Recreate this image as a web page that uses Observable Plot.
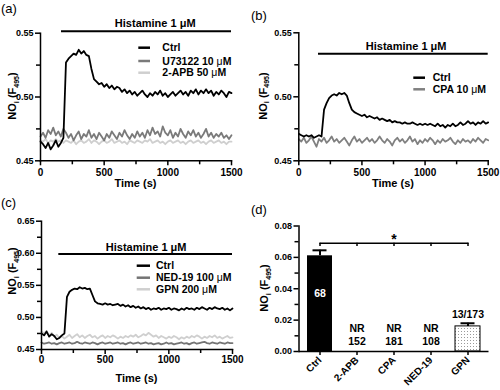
<!DOCTYPE html>
<html>
<head>
<meta charset="utf-8">
<script src="https://cdn.jsdelivr.net/npm/d3@7"></script>
<script src="https://cdn.jsdelivr.net/npm/@observablehq/plot@0.6"></script>
<style>
  body { margin: 0; background: #fff; }
  #root { position: relative; width: 500px; height: 390px; overflow: hidden; background: #fff;
          font-family: "Liberation Sans", Arial, sans-serif; color: #000; }
  .panel { position: absolute; width: 250px; height: 195px; }
  .plab { position: absolute; font-size: 13px; line-height: 15px; font-weight: normal; }
</style>
</head>
<body>
<svg width="0" height="0" style="position:absolute">
  <defs>
    <pattern id="dots" width="3" height="3" patternUnits="userSpaceOnUse">
      <rect width="3" height="3" fill="#ffffff"/>
      <rect x="1" y="1" width="1" height="1" fill="#9a9a9a"/>
    </pattern>
  </defs>
</svg>
<div id="root"></div>
<script>
// ---------- DATA ----------
// sampling grid of the traces (s)
const times = d3.range(0, 1501, 20);

// Panel (a)
const ctrlA = [
  0.465,0.463,0.460,0.464,0.459,0.462,0.466,0.461,0.464,0.468,
  0.527,0.530,0.532,0.534,0.533,0.537,0.534,0.536,0.533,0.532,
  0.522,0.514,0.512,0.510,0.511,0.508,0.510,0.507,0.509,0.506,
  0.508,0.507,0.504,0.506,0.503,0.505,0.502,0.504,0.501,0.503,
  0.505,0.502,0.500,0.503,0.501,0.504,0.502,0.505,0.501,0.503,
  0.500,0.502,0.504,0.501,0.503,0.505,0.502,0.504,0.501,0.505,
  0.503,0.506,0.502,0.505,0.503,0.506,0.503,0.505,0.501,0.504,
  0.502,0.505,0.503,0.500,0.504,0.503];
const u73122A = [
  0.469,0.472,0.468,0.474,0.471,0.476,0.470,0.473,0.469,0.475,
  0.472,0.468,0.471,0.466,0.470,0.473,0.467,0.471,0.469,0.474,
  0.468,0.471,0.467,0.472,0.469,0.466,0.471,0.468,0.473,0.470,
  0.467,0.472,0.469,0.474,0.470,0.467,0.471,0.468,0.473,0.469,
  0.472,0.468,0.474,0.470,0.476,0.471,0.473,0.469,0.477,0.472,
  0.470,0.474,0.468,0.472,0.469,0.475,0.471,0.468,0.473,0.470,
  0.474,0.469,0.472,0.468,0.471,0.475,0.469,0.472,0.468,0.471,
  0.469,0.472,0.468,0.470,0.467,0.470];
const apbA = [
  0.466,0.465,0.467,0.464,0.466,0.465,0.467,0.465,0.466,0.464,
  0.466,0.465,0.464,0.466,0.463,0.465,0.466,0.464,0.465,0.467,
  0.464,0.466,0.465,0.463,0.465,0.466,0.464,0.465,0.467,0.464,
  0.465,0.466,0.464,0.465,0.463,0.466,0.465,0.464,0.466,0.465,
  0.464,0.466,0.465,0.467,0.464,0.465,0.466,0.464,0.465,0.463,
  0.465,0.466,0.464,0.465,0.466,0.464,0.465,0.463,0.465,0.466,
  0.464,0.465,0.466,0.464,0.465,0.463,0.465,0.466,0.464,0.465,
  0.466,0.464,0.465,0.463,0.465,0.465];

// Panel (b)
const ctrlB = [
  0.471,0.470,0.469,0.470,0.469,0.470,0.468,0.469,0.470,0.469,
  0.490,0.495,0.499,0.501,0.502,0.501,0.503,0.502,0.503,0.501,
  0.495,0.490,0.488,0.487,0.486,0.485,0.486,0.484,0.485,0.484,
  0.483,0.484,0.482,0.483,0.482,0.481,0.482,0.480,0.481,0.480,
  0.480,0.479,0.480,0.479,0.479,0.480,0.479,0.478,0.479,0.478,
  0.479,0.478,0.479,0.478,0.477,0.479,0.477,0.478,0.476,0.478,
  0.477,0.479,0.477,0.478,0.480,0.478,0.479,0.481,0.479,0.480,
  0.478,0.480,0.479,0.481,0.479,0.480];
const cpaB = [
  0.467,0.465,0.468,0.464,0.466,0.469,0.465,0.461,0.467,0.465,
  0.468,0.464,0.466,0.469,0.465,0.467,0.464,0.466,0.468,0.465,
  0.462,0.466,0.469,0.465,0.467,0.464,0.466,0.468,0.465,0.467,
  0.464,0.466,0.469,0.466,0.464,0.467,0.465,0.462,0.466,0.468,
  0.465,0.467,0.464,0.466,0.469,0.465,0.467,0.463,0.466,0.464,
  0.467,0.465,0.468,0.466,0.463,0.466,0.464,0.467,0.465,0.466,
  0.468,0.465,0.463,0.466,0.464,0.467,0.465,0.466,0.464,0.467,
  0.465,0.468,0.466,0.464,0.467,0.466];

// Panel (c)
const ctrlC = [
  0.475,0.472,0.478,0.470,0.474,0.471,0.466,0.468,0.472,0.475,
  0.532,0.540,0.543,0.545,0.544,0.547,0.545,0.546,0.544,0.545,
  0.535,0.525,0.522,0.521,0.520,0.522,0.520,0.521,0.519,0.520,
  0.521,0.518,0.520,0.517,0.519,0.516,0.518,0.515,0.517,0.514,
  0.516,0.513,0.515,0.512,0.514,0.513,0.515,0.512,0.514,0.513,
  0.515,0.512,0.514,0.513,0.511,0.514,0.512,0.515,0.513,0.514,
  0.512,0.515,0.513,0.516,0.514,0.512,0.515,0.513,0.516,0.514,
  0.513,0.515,0.512,0.514,0.511,0.514];
const ned19C = [
  0.461,0.459,0.460,0.461,0.459,0.460,0.458,0.460,0.461,0.459,
  0.460,0.461,0.459,0.460,0.462,0.460,0.459,0.461,0.460,0.459,
  0.461,0.460,0.458,0.460,0.461,0.459,0.460,0.461,0.459,0.460,
  0.461,0.459,0.460,0.458,0.460,0.461,0.459,0.460,0.461,0.459,
  0.460,0.461,0.459,0.460,0.458,0.459,0.460,0.458,0.459,0.461,
  0.459,0.460,0.458,0.459,0.460,0.461,0.459,0.460,0.458,0.460,
  0.461,0.459,0.460,0.461,0.462,0.460,0.459,0.461,0.460,0.459,
  0.461,0.460,0.459,0.461,0.460,0.460];
const gpnC = [
  0.478,0.475,0.479,0.472,0.476,0.470,0.473,0.468,0.471,0.467,
  0.470,0.473,0.468,0.471,0.474,0.469,0.472,0.468,0.471,0.473,
  0.469,0.471,0.467,0.470,0.472,0.468,0.471,0.469,0.472,0.470,
  0.467,0.470,0.468,0.471,0.469,0.472,0.470,0.473,0.469,0.471,
  0.474,0.472,0.476,0.473,0.470,0.472,0.468,0.471,0.469,0.467,
  0.470,0.468,0.471,0.469,0.466,0.469,0.467,0.470,0.468,0.471,
  0.469,0.472,0.470,0.467,0.470,0.468,0.471,0.469,0.472,0.468,
  0.470,0.467,0.469,0.471,0.468,0.469];

// Histamine application start (s)
const histStart = { a: 165, b: 156, c: 136 };

// Panel (d)
const cats    = ["Ctrl", "2-APB", "CPA", "NED-19", "GPN"];
const means   = [0.061, null, null, null, 0.016];
const sems    = [0.0035, null, null, null, 0.002];
const nLabels = ["68", "152", "181", "108", "13/173"];
const respLabels = ["", "NR", "NR", "NR", ""];

// ---------- DRAWING ----------
const FONT = "'Liberation Sans', Arial, Helvetica, sans-serif";
const BLACK = "#000000", DARK = "#7a7a7a", LIGHT = "#cfcfcf";
const root = document.getElementById("root");

function addPanel(left, top, label, labLeft, labTop) {
  const div = document.createElement("div");
  div.className = "panel";
  div.style.left = left + "px";
  div.style.top = top + "px";
  root.appendChild(div);
  const lab = document.createElement("div");
  lab.className = "plab";
  lab.style.left = labLeft + "px";
  lab.style.top = labTop + "px";
  lab.textContent = label;
  root.appendChild(lab);
  return div;
}

function addText(sel, x, y, str, opts = {}) {
  const t = sel.append("text")
    .attr("x", x).attr("y", y)
    .attr("dy", "0.35em")
    .attr("font-size", opts.size || 10.5)
    .attr("font-weight", "bold")
    .attr("text-anchor", opts.anchor || "start")
    .attr("fill", "#000");
  const parts = str.split("μ");
  parts.forEach((p, i) => {
    if (i > 0) t.append("tspan").attr("font-weight", "normal").text("μ");
    t.append("tspan").text(p);
  });
  return t;
}

function addYLabel(svg, cx, cy) {
  const t = svg.append("text")
    .attr("transform", `translate(${cx + 4},${cy}) rotate(-90)`)
    .attr("text-anchor", "middle")
    .attr("font-size", 11)
    .attr("font-weight", "bold")
    .attr("fill", "#000");
  t.append("tspan").text("NO");
  t.append("tspan").attr("font-size", 7).attr("dy", 2.5).text("i");
  t.append("tspan").attr("dy", -2.5).text(" (F");
  t.append("tspan").attr("font-size", 7).attr("dy", 2.5).text("495");
  t.append("tspan").attr("dy", -2.5).text(")");
}

function tracePanel(cfg) {
  const div = addPanel(cfg.left, cfg.top, cfg.label, cfg.labLeft, cfg.labTop);
  const lineMarks = cfg.series.slice().reverse().map(s =>
    Plot.line(s.values.slice(0, times.length).map((v, i) => ({ t: times[i], v })),
      { x: "t", y: "v", stroke: s.color, strokeWidth: 1.8, strokeLinejoin: "round" }));
  const hs = cfg.hist.start;
  const plot = Plot.plot({
    width: 250, height: 195,
    marginLeft: cfg.m[0], marginRight: cfg.m[1], marginTop: cfg.m[2], marginBottom: cfg.m[3],
    style: { fontFamily: FONT, fontSize: "10px", fontWeight: "bold", color: "#000", background: "transparent", overflow: "visible" },
    x: { domain: [0, 1500] },
    y: { domain: cfg.yDomain },
    marks: [
      ...lineMarks,
      Plot.ruleY([cfg.hist.y], { x1: hs, x2: 1500, strokeWidth: 2 }),
      Plot.text(["Histamine 1 μM"], { x: (hs + 1500) / 2, y: cfg.hist.y, dx: cfg.hist.dx, dy: cfg.hist.dy,
        text: d => d, fontSize: 11, fontWeight: "bold", fill: "#000" }),
      Plot.axisX({ ticks: [0, 500, 1000, 1500], tickSize: 5, tickPadding: cfg.xPad, tickFormat: d3.format("d"), fontSize: 10, label: null, strokeWidth: 1.5 }),
      Plot.axisX({ ticks: [250, 750, 1250], tickSize: 4, tickFormat: () => "", label: null, strokeWidth: 1.5 }),
      Plot.axisY({ ticks: cfg.yMajor, tickSize: 5, tickPadding: 2, tickFormat: d3.format(".2f"), fontSize: 9, label: null, strokeWidth: 1.5 }),
      Plot.axisY({ ticks: cfg.yMinor, tickSize: 4, tickFormat: () => "", label: null, strokeWidth: 1.5 }),
      Plot.frame({ anchor: "left", strokeWidth: 1.5 }),
      Plot.frame({ anchor: "bottom", strokeWidth: 1.5 })
    ]
  });
  div.appendChild(plot);
  const svg = d3.select(plot);
  addYLabel(svg, cfg.yLab[0], cfg.yLab[1]);
  addText(svg, (cfg.m[0] + 250 - cfg.m[1]) / 2, cfg.timeY, "Time (s)", { size: 11, anchor: "middle" });
  const L = cfg.legend;
  cfg.series.forEach((s, i) => {
    svg.append("line").attr("x1", L.x1).attr("x2", L.x2).attr("y1", L.ys[i]).attr("y2", L.ys[i])
      .attr("stroke", s.color).attr("stroke-width", 2.5);
    addText(svg, L.tx, L.ys[i], s.name);
  });
}

tracePanel({
  left: 0, top: 0, label: "(a)", labLeft: 1, labTop: 1,
  m: [40, 19, 32.7, 34.7],
  yDomain: [0.45, 0.55], yMajor: [0.45, 0.50, 0.55], yMinor: [0.475, 0.525],
  series: [
    { name: "Ctrl", values: ctrlA, color: BLACK },
    { name: "U73122 10 μM", values: u73122A, color: DARK },
    { name: "2-APB 50 μM", values: apbA, color: LIGHT }
  ],
  hist: { start: histStart.a, y: 0.5516, dx: 8.7, dy: -7.7 },
  xPad: 3, yLab: [12, 96], timeY: 183,
  legend: { x1: 138.3, x2: 150, tx: 162.3, ys: [47.7, 61, 72.7] }
});

tracePanel({
  left: 250, top: 0, label: "(b)", labLeft: 251, labTop: 8,
  m: [48.3, 12.3, 32.3, 34.7],
  yDomain: [0.45, 0.55], yMajor: [0.45, 0.50, 0.55], yMinor: [0.475, 0.525],
  series: [
    { name: "Ctrl", values: ctrlB, color: BLACK },
    { name: "CPA 10 μM", values: cpaB, color: "#808080" }
  ],
  hist: { start: histStart.b, y: 0.5336, dx: 2.8, dy: -7.6 },
  xPad: 3, yLab: [12.5, 96], timeY: 182.7,
  legend: { x1: 163.3, x2: 175, tx: 182.7, ys: [77.7, 89.3] }
});

tracePanel({
  left: 0, top: 195, label: "(c)", labLeft: 1, labTop: 195,
  m: [41, 18, 25.7, 41],
  yDomain: [0.45, 0.65], yMajor: [0.45, 0.50, 0.55, 0.60, 0.65], yMinor: [0.475, 0.525, 0.575, 0.625],
  series: [
    { name: "Ctrl", values: ctrlC, color: BLACK },
    { name: "NED-19 100 μM", values: ned19C, color: "#747474" },
    { name: "GPN 200 μM", values: gpnC, color: LIGHT }
  ],
  hist: { start: histStart.c, y: 0.599, dx: 0.5, dy: -6.6 },
  xPad: 1.5, yLab: [12, 76], timeY: 182.7,
  legend: { x1: 136.7, x2: 150, tx: 156, ys: [70.7, 82.7, 94.3] }
});

// ---- Panel (d) ----
(function () {
  const div = addPanel(250, 195, "(d)", 251, 202);
  const rows = cats.map((c, i) => ({ cat: c, mean: means[i], sem: sems[i], n: nLabels[i], resp: respLabels[i] }));
  const measured = rows.filter(d => d.mean != null);
  const nr = rows.filter(d => d.mean == null);
  const bracketY = 0.069, starY = 0.0715, inBarY = 0.037, nrY = 0.0145, nY = 0.0066, gpnLabY = 0.0236;
  const bracket = [{ cat: cats[0] }, { cat: cats[cats.length - 1] }];
  const plot = Plot.plot({
    width: 250, height: 195,
    marginLeft: 48.5, marginRight: 11.5, marginTop: 30.5, marginBottom: 39,
    style: { fontFamily: FONT, fontSize: "10px", fontWeight: "bold", color: "#000", background: "transparent", overflow: "visible" },
    x: { domain: cats, paddingInner: 0.333, paddingOuter: 0.2 },
    y: { domain: [0, 0.08] },
    marks: [
      Plot.barY(measured.filter(d => d.cat === "Ctrl"), { x: "cat", y: "mean", fill: "#000" }),
      Plot.barY(measured.filter(d => d.cat === "GPN"), { x: "cat", y: "mean", fill: "url(#dots)", stroke: "#000", strokeWidth: 1 }),
      Plot.ruleX(measured, { x: "cat", y1: "mean", y2: d => d.mean + d.sem, strokeWidth: 2 }),
      Plot.tickY(measured, { x: "cat", y: d => d.mean + d.sem, strokeWidth: 2, insetLeft: 5.5, insetRight: 5.5 }),
      Plot.line(bracket, { x: "cat", y: () => bracketY, strokeWidth: 1.5 }),
      Plot.ruleX(cats, { x: d => d, y1: bracketY - 0.002, y2: bracketY, strokeWidth: 1.5 }),
      Plot.text(["*"], { x: () => "CPA", y: () => starY, text: d => d, fontSize: 14, fontWeight: "bold" }),
      Plot.text(rows.filter(d => d.cat === "Ctrl"), { x: "cat", y: () => inBarY, text: "n", fill: "#fff", fontSize: 10.5 }),
      Plot.text(nr, { x: "cat", y: () => nrY, text: "resp", fontSize: 10.5 }),
      Plot.text(nr, { x: "cat", y: () => nY, text: "n", fontSize: 10.5 }),
      Plot.text(rows.filter(d => d.cat === "GPN"), { x: "cat", y: () => gpnLabY, text: "n", fontSize: 10.5 }),
      Plot.axisX({ tickSize: 4, tickRotate: -45, tickPadding: 3, fontSize: 10, label: null, strokeWidth: 1.5 }),
      Plot.axisY({ ticks: [0, 0.02, 0.04, 0.06, 0.08], tickSize: 5, tickPadding: 2, tickFormat: d3.format(".2f"), fontSize: 9, label: null, strokeWidth: 1.5 }),
      Plot.axisY({ ticks: [0.01, 0.03, 0.05, 0.07], tickSize: 4, tickFormat: () => "", label: null, strokeWidth: 1.5 }),
      Plot.frame({ anchor: "left", strokeWidth: 1.5 }),
      Plot.ruleY([0], { strokeWidth: 1.5 })
    ]
  });
  div.appendChild(plot);
  addYLabel(d3.select(plot), 14, 93);
})();
</script>
</body>
</html>
